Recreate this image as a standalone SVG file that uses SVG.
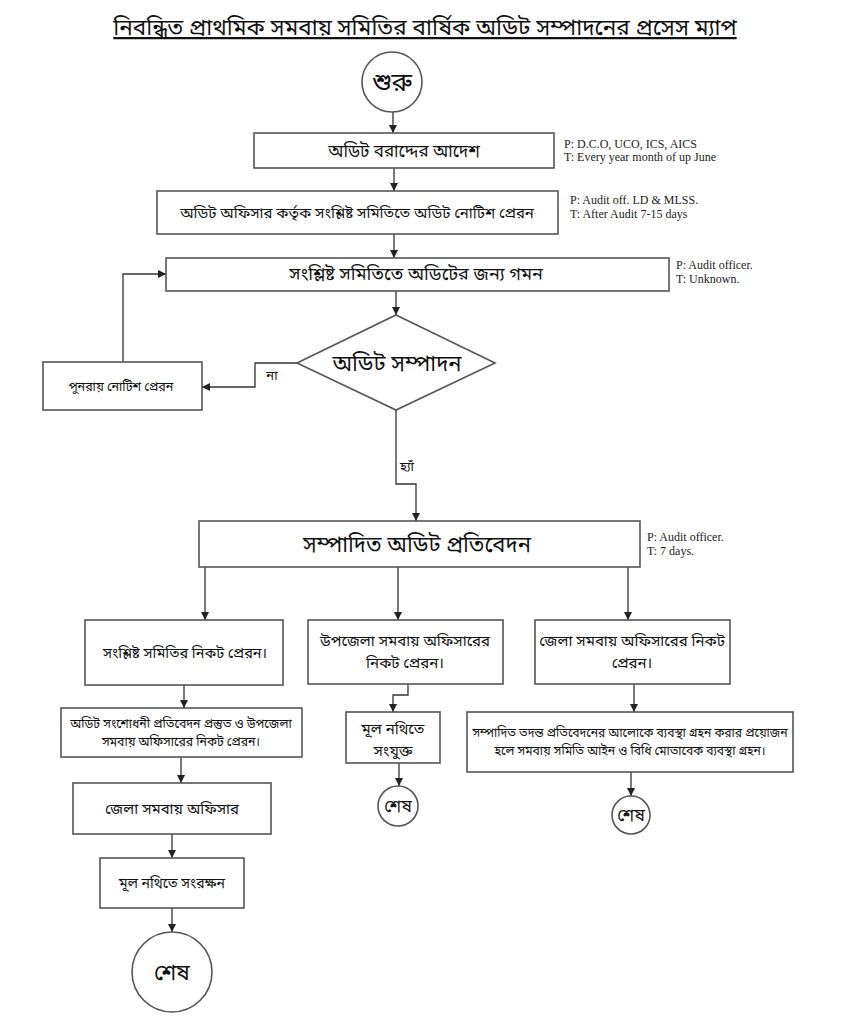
<svg xmlns="http://www.w3.org/2000/svg" width="842" height="1032" viewBox="0 0 842 1032">
<defs>
<marker id="arr" markerUnits="userSpaceOnUse" markerWidth="9" markerHeight="8" refX="8" refY="4" orient="auto">
<path d="M0,0 L8,4 L0,8 z" fill="#222"/>
</marker>
<style>
.bg{fill:#fff}
.box{fill:#fff;stroke:#555;stroke-width:1.6}
.ln{fill:none;stroke:#333;stroke-width:1.3;marker-end:url(#arr)}
.bn{font-family:"Noto Sans Bengali","Noto Serif Bengali","Lohit Bengali","Vrinda","Noto Sans",sans-serif;fill:#111;text-anchor:middle}
.en{font-family:"Liberation Serif","Times New Roman",serif;font-size:12px;fill:#222}
</style>
</defs>
<rect class="bg" x="0" y="0" width="842" height="1032"/>
<g id="title">
<text class="bn" x="425" y="35" font-size="22.5" text-decoration="underline">নিবন্ধিত প্রাথমিক সমবায় সমিতির বার্ষিক অডিট সম্পাদনের প্রসেস ম্যাপ</text>
</g>
<g id="connectors">
<line class="ln" x1="393" y1="112" x2="393" y2="133"/>
<line class="ln" x1="394" y1="168" x2="394" y2="191"/>
<line class="ln" x1="394" y1="234" x2="394" y2="258"/>
<line class="ln" x1="396" y1="291" x2="396" y2="315"/>
<polyline class="ln" points="297,363 255,363 255,387 202,387"/>
<text class="bn" x="272" y="380" font-size="13">না</text>
<polyline class="ln" points="123,362 123,274 166,274"/>
<polyline class="ln" points="396,410 396,484 416,484 416,521"/>
<text class="bn" x="407" y="471" font-size="13">হ্যাঁ</text>
<line class="ln" x1="205" y1="567" x2="205" y2="620"/>
<line class="ln" x1="398" y1="567" x2="398" y2="620"/>
<line class="ln" x1="628" y1="567" x2="628" y2="620"/>
<line class="ln" x1="184" y1="685" x2="184" y2="708"/>
<line class="ln" x1="181" y1="757" x2="181" y2="783"/>
<line class="ln" x1="172" y1="834" x2="172" y2="858"/>
<line class="ln" x1="172" y1="908" x2="172" y2="932"/>
<polyline class="ln" points="408,684 408,695 393,695 393,712"/>
<line class="ln" x1="399" y1="763" x2="399" y2="786"/>
<line class="ln" x1="634" y1="684" x2="634" y2="712"/>
<line class="ln" x1="631" y1="772" x2="631" y2="796"/>
</g>
<g id="start">
<circle class="box" cx="392" cy="82" r="30"/>
<text class="bn" x="392" y="91" font-size="26">শুরু</text>
</g>
<g id="n1">
<rect class="box" x="254" y="133" width="300" height="35"/>
<text class="bn" x="404" y="157" font-size="17">অডিট বরাদ্দের আদেশ</text>
<text class="en" x="564" y="148">P: D.C.O, UCO, ICS, AICS</text>
<text class="en" x="564" y="161">T: Every year month of up June</text>
</g>
<g id="n2">
<rect class="box" x="157" y="191" width="401" height="43"/>
<text class="bn" x="357" y="218" font-size="15">অডিট অফিসার কর্তৃক সংশ্লিষ্ট সমিতিতে অডিট নোটিশ প্রেরন</text>
<text class="en" x="570" y="204">P: Audit off. LD &amp; MLSS.</text>
<text class="en" x="570" y="218">T: After Audit 7-15 days</text>
</g>
<g id="n3">
<rect class="box" x="166" y="258" width="503" height="33"/>
<text class="bn" x="416" y="280" font-size="18">সংশ্লিষ্ট সমিতিতে অডিটের জন্য গমন</text>
<text class="en" x="676" y="269">P: Audit officer.</text>
<text class="en" x="676" y="283">T: Unknown.</text>
</g>
<g id="decision">
<polygon class="box" points="396,315 495,363 396,410 297,363"/>
<text class="bn" x="397" y="371" font-size="22">অডিট সম্পাদন</text>
</g>
<g id="renotice">
<rect class="box" x="43" y="362" width="159" height="48"/>
<text class="bn" x="121" y="391" font-size="12.5">পুনরায় নোটিশ প্রেরন</text>
</g>
<g id="report">
<rect class="box" x="199" y="521" width="441" height="46"/>
<text class="bn" x="417" y="552" font-size="22">সম্পাদিত অডিট প্রতিবেদন</text>
<text class="en" x="647" y="541">P: Audit officer.</text>
<text class="en" x="647" y="555">T: 7 days.</text>
</g>
<g id="l1">
<rect class="box" x="85" y="620" width="198" height="65"/>
<text class="bn" x="185" y="658" font-size="14.5">সংশ্লিষ্ট সমিতির নিকট প্রেরন।</text>
</g>
<g id="m1">
<rect class="box" x="308" y="620" width="195" height="64"/>
<text class="bn" x="405" y="646" font-size="15">উপজেলা সমবায় অফিসারের</text>
<text class="bn" x="405" y="668" font-size="15">নিকট প্রেরন।</text>
</g>
<g id="r1">
<rect class="box" x="535" y="620" width="195" height="64"/>
<text class="bn" x="632" y="646" font-size="15">জেলা সমবায় অফিসারের নিকট</text>
<text class="bn" x="632" y="668" font-size="15">প্রেরন।</text>
</g>
<g id="l2">
<rect class="box" x="61" y="708" width="241" height="49"/>
<text class="bn" x="181" y="728" font-size="12.3">অডিট সংশোধনী প্রতিবেদন প্রস্তুত ও উপজেলা</text>
<text class="bn" x="181" y="746" font-size="12.3">সমবায় অফিসারের নিকট প্রেরন।</text>
</g>
<g id="l3">
<rect class="box" x="73" y="783" width="198" height="51"/>
<text class="bn" x="172" y="814" font-size="15">জেলা সমবায় অফিসার</text>
</g>
<g id="l4">
<rect class="box" x="100" y="858" width="144" height="50"/>
<text class="bn" x="172" y="888" font-size="14">মূল নথিতে সংরক্ষন</text>
</g>
<g id="endL">
<circle class="box" cx="172" cy="972" r="40"/>
<text class="bn" x="172" y="980" font-size="22">শেষ</text>
</g>
<g id="m2">
<rect class="box" x="346" y="712" width="94" height="51"/>
<text class="bn" x="393" y="734" font-size="15">মূল নথিতে</text>
<text class="bn" x="393" y="756" font-size="15">সংযুক্ত</text>
</g>
<g id="endM">
<circle class="box" cx="398" cy="806" r="20"/>
<text class="bn" x="398" y="812" font-size="17">শেষ</text>
</g>
<g id="r2">
<rect class="box" x="467" y="712" width="326" height="60"/>
<text class="bn" x="630" y="737" font-size="12.2">সম্পাদিত তদন্ত প্রতিবেদনের আলোকে ব্যবস্থা গ্রহন করার প্রয়োজন</text>
<text class="bn" x="630" y="755" font-size="12.2">হলে সমবায় সমিতি আইন ও  বিধি মোতাবেক ব্যবস্থা গ্রহন।</text>
</g>
<g id="endR">
<circle class="box" cx="631" cy="815" r="19"/>
<text class="bn" x="631" y="821" font-size="17">শেষ</text>
</g>
</svg>
